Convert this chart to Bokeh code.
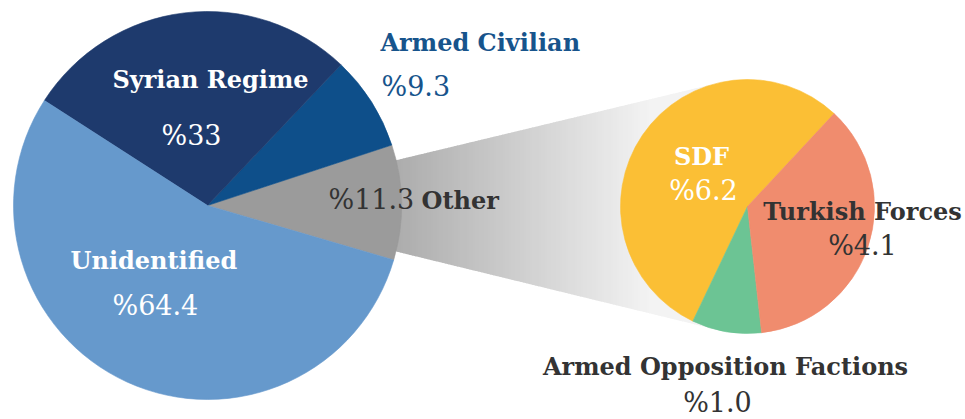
import numpy as np
from bokeh.plotting import figure
from bokeh.models import Range1d, ColumnDataSource
from bokeh.core.properties import value
from bokeh.embed import file_html
from bokeh.resources import INLINE

# ---------------- data ----------------
main_cats = ["Other", "Armed Civilian", "Syrian Regime", "Unidentified"]
main_vals = [11.3, 9.3, 33, 64.4]
main_pct = ["%11.3", "%9.3", "%33", "%64.4"]
main_colors = ["#9b9b9b", "#0e4f8a", "#1e3a6d", "#6699cc"]

other_cats = ["SDF", "Armed Opposition Factions", "Turkish Forces"]
other_vals = [6.2, 1.0, 4.1]
other_pct = ["%6.2", "%1.0", "%4.1"]
other_colors = ["#fbbf35", "#6cc494", "#f08c6e"]

# ---------------- layout ----------------
W, H = 965, 419
L_cx, L_cy, L_r = 207, H - 205, 194
R_cx, R_cy, R_r = 747, H - 206, 127
L_start = np.radians(-16.3)
R_start = np.radians(47.0)
FONT = "DejaVu Serif"

p = figure(width=W, height=H, x_range=Range1d(0, W), y_range=Range1d(0, H),
           toolbar_location=None, output_backend="svg", min_border=0,
           x_axis_location=None, y_axis_location=None)
p.grid.visible = False
p.outline_line_color = None
p.background_fill_color = "white"
p.border_fill_color = "white"

# ---------------- gradient connector band ----------------
dx, dy = R_cx - L_cx, R_cy - L_cy
dist = np.hypot(dx, dy)
th0 = np.arctan2(dy, dx)
half = np.arcsin(R_r / dist)
tlen = np.sqrt(dist ** 2 - R_r ** 2)
T1 = (L_cx + tlen * np.cos(th0 + half), L_cy + tlen * np.sin(th0 + half))
T2 = (L_cx + tlen * np.cos(th0 - half), L_cy + tlen * np.sin(th0 - half))
x_end = min(T1[0], T2[0])
edges = np.arange(385, x_end + 3, 3.0)


def top(x):
    return L_cy + (x - L_cx) * (T1[1] - L_cy) / (T1[0] - L_cx)


def bot(x):
    return L_cy + (x - L_cx) * (T2[1] - L_cy) / (T2[0] - L_cx)


xs, ys, cols = [], [], []
for a, b in zip(edges[:-1], edges[1:]):
    b = min(b, x_end)
    xs.append([a, b + 0.6, b + 0.6, a])
    ys.append([bot(a), bot(b + 0.6), top(b + 0.6), top(a)])
    t = np.clip((0.5 * (a + b) - 395) / (650 - 395), 0, 1)
    g = int(round(172 + (243 - 172) * t))
    cols.append("#%02x%02x%02x" % (g, g, g))
p.patches(xs, ys, fill_color=cols, line_color=None)


# ---------------- pies ----------------
def pie(cx, cy, r, start, vals, colors):
    v = np.array(vals, dtype=float)
    cum = np.concatenate([[0], np.cumsum(v)]) / v.sum() * 2 * np.pi
    src = ColumnDataSource(dict(s=start + cum[:-1], e=start + cum[1:], c=colors))
    p.wedge(x=cx, y=cy, radius=r, start_angle="s", end_angle="e",
            fill_color="c", line_color="c", line_width=0.6, source=src)


pie(L_cx, L_cy, L_r, L_start, main_vals, main_colors)
pie(R_cx, R_cy, R_r, R_start, other_vals, other_colors)


# ---------------- labels ----------------
def label(x, y, txt, size, bold, color, align="center"):
    p.text(x=[x], y=[H - y], text=[txt], text_font=value(FONT),
           text_font_size=f"{size}px", text_font_style="bold" if bold else "normal",
           text_color=color, text_align=align, text_baseline="middle")


WHITE, DARK, BLUE = "#ffffff", "#333333", "#17548c"
BS, NS = 24, 27

label(210, 79, main_cats[2], BS, True, WHITE)
label(191, 135, main_pct[2], NS, False, WHITE)
label(70, 260, main_cats[3], BS, True, WHITE, "left")
label(112, 305, main_pct[3], NS, False, WHITE, "left")
label(380, 42, main_cats[1], BS, True, BLUE, "left")
label(381, 86, main_pct[1], NS, False, BLUE, "left")
label(328, 199, main_pct[0], NS, False, DARK, "left")
label(421, 200, main_cats[0], BS, True, DARK, "left")

label(701, 156, other_cats[0], BS, True, WHITE)
label(703, 190, other_pct[0], NS, False, WHITE)
label(862, 211, other_cats[2], BS, True, DARK)
label(862, 245, other_pct[2], NS, False, DARK)
label(725, 366, other_cats[1], BS, True, DARK)
label(717, 402, other_pct[1], NS, False, DARK)

open("out.html", "w").write(file_html(p, INLINE))
